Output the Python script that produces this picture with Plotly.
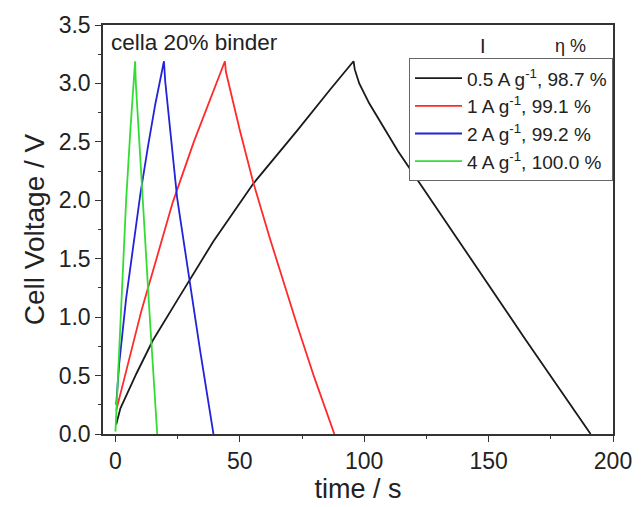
import plotly.graph_objects as go

# Galvanostatic charge/discharge profiles (time in s, cell voltage in V)
black_t = [0.3, 2.0, 8.5, 15.0, 25.0, 39.4, 55.3, 73.2, 86.4, 95.7,
           96.2, 98.0, 102.0, 113.6, 140.0, 164.6, 191.0]
black_v = [0.08, 0.22, 0.52, 0.80, 1.15, 1.65, 2.14, 2.60, 2.95, 3.19,
           3.12, 3.00, 2.83, 2.42, 1.59, 0.815, 0.0]

red_t = [0.3, 4.0, 10.5, 16.5, 23.0, 31.5, 40.0, 44.0,
         44.4, 50.0, 55.3, 62.0, 73.2, 80.0, 88.0]
red_v = [0.20, 0.52, 1.06, 1.50, 1.98, 2.50, 2.98, 3.19,
         3.10, 2.60, 2.16, 1.68, 0.92, 0.48, 0.0]

blue_t = [0.3, 1.5, 4.3, 7.0, 10.0, 13.0, 16.0, 19.5,
          20.0, 24.8, 29.4, 34.0, 39.4]
blue_v = [0.25, 0.60, 1.16, 1.60, 2.05, 2.45, 2.82, 3.19,
          3.02, 2.02, 1.35, 0.72, 0.0]

green_t = [0.0, 1.0, 2.3, 4.3, 6.0, 7.9,
           8.2, 10.9, 13.8, 16.8]
green_v = [0.02, 0.50, 1.10, 2.00, 2.60, 3.19,
           3.00, 2.00, 1.00, 0.0]

series_names = [
    "0.5 A g<sup>-1</sup>, 98.7 %",
    "1 A g<sup>-1</sup>, 99.1 %",
    "2 A g<sup>-1</sup>, 99.2 %",
    "4 A g<sup>-1</sup>, 100.0 %",
]
series_colors = ["#1a1a1a", "#ff2a2a", "#2323d8", "#33dd33"]
series_t = [black_t, red_t, blue_t, green_t]
series_v = [black_v, red_v, blue_v, green_v]

FONT = "Liberation Sans, Arial, sans-serif"

fig = go.Figure()
for t, v, name, col in zip(series_t, series_v, series_names, series_colors):
    fig.add_trace(go.Scatter(x=t, y=v, mode="lines", name=name,
                             line=dict(color=col, width=1.8)))

axis_common = dict(
    showline=True, linecolor="#333", linewidth=1.5, mirror=True,
    ticks="outside", ticklen=6, tickwidth=1.3, tickcolor="#333",
    showgrid=False, zeroline=False,
    tickfont=dict(family=FONT, size=23, color="#222"),
)

fig.update_xaxes(
    range=[-5, 200], tick0=0, dtick=50,
    minor=dict(ticks="outside", ticklen=3.5, tickwidth=1.2, tickcolor="#333", dtick=25),
    title=dict(text="time / s", font=dict(family=FONT, size=27, color="#222"), standoff=2),
    **axis_common,
)
fig.update_yaxes(
    range=[0, 3.5], tick0=0, dtick=0.5, tickformat=".1f",
    minor=dict(ticks="outside", ticklen=3.5, tickwidth=1.2, tickcolor="#333", dtick=0.25),
    title=dict(text="Cell Voltage / V", font=dict(family=FONT, size=28, color="#222"), standoff=6),
    **axis_common,
)

# plot-area extents in pixels, used to place the legend header
L, R, T, B = 103, 620, 21, 439

fig.add_annotation(x=0, y=1, xref="paper", yref="paper", xshift=6, yshift=-3,
                   xanchor="left", yanchor="top", showarrow=False,
                   text="cella 20% binder",
                   font=dict(family=FONT, size=22.5, color="#222"))
fig.add_annotation(x=(488 - L) / (R - L), y=(B - 42) / (B - T),
                   xref="paper", yref="paper", showarrow=False,
                   xanchor="center", yanchor="middle",
                   text="I", font=dict(family=FONT, size=20, color="#222"))
fig.add_annotation(x=(577 - L) / (R - L), y=(B - 42) / (B - T),
                   xref="paper", yref="paper", showarrow=False,
                   xanchor="center", yanchor="middle",
                   text="η %", font=dict(family=FONT, size=18, color="#222"))

fig.update_layout(
    width=644, height=507,
    margin=dict(l=L, r=644 - R, t=T, b=507 - B),
    paper_bgcolor="white", plot_bgcolor="white",
    showlegend=True,
    legend=dict(x=1, xanchor="right", y=(B - 55) / (B - T), yanchor="top",
                bordercolor="#666", borderwidth=1, bgcolor="white",
                font=dict(family=FONT, size=19, color="#222"),
                itemwidth=47, tracegroupgap=0),
)

fig.write_html("out.html")
